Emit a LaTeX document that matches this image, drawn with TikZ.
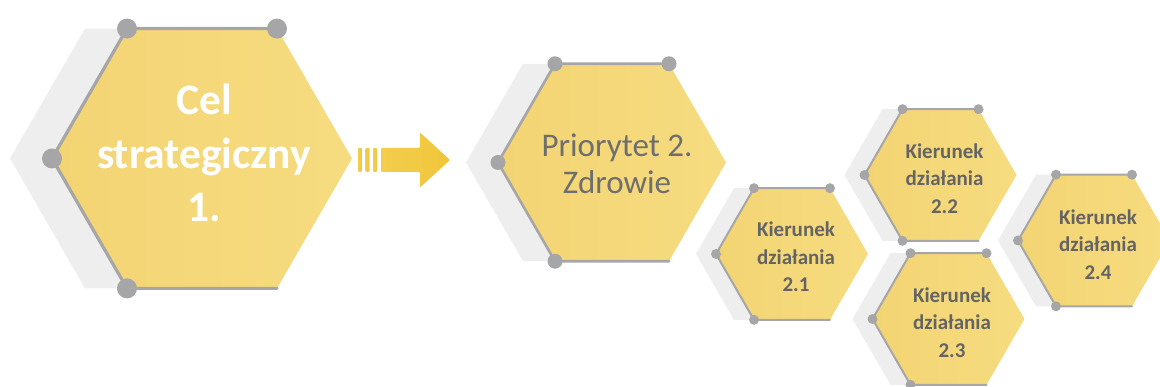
\documentclass[tikz,border=0pt]{standalone}
\usepackage{fontspec}
\setmainfont{Carlito}
\usetikzlibrary{calc}
\definecolor{hexL}{RGB}{243,212,115}
\definecolor{hexR}{RGB}{246,220,128}
\definecolor{hexshade}{RGB}{238,238,239}
\definecolor{hexgray}{RGB}{166,166,168}
\definecolor{txtgray}{RGB}{110,110,110}
\definecolor{kirgray}{RGB}{100,100,100}
\definecolor{arrL}{RGB}{243,206,76}
\definecolor{arrR}{RGB}{240,197,58}
\tikzset{
 hexshadow/.style={fill=hexshade},
 hexfill/.style={left color=hexL, right color=hexR},
 hexline/.style={draw=hexgray, line join=round, line cap=round},
 hexdot/.style={fill=hexgray},
 celtext/.style={text=white, font=\fontsize{43.5}{53.5}\selectfont\bfseries, align=center, inner sep=0pt},
 priotext/.style={text=txtgray, font=\fontsize{33}{37}\selectfont, align=center, inner sep=0pt},
 kiertext/.style={text=kirgray, font=\fontsize{21}{27.5}\selectfont\bfseries, align=center, inner sep=0pt},
 arrowpart/.style={left color=arrL, right color=arrR, rounded corners=1pt},
}
% #1 centre name, #2 side, #3 shadow offset, #4 line width, #5 dot radius
\newcommand\hexcell[5]{%
\begin{scope}[shift={(#1)}]
 \fill[hexshadow] ({-#3+#2},0) -- ({-#3+0.5*#2},{0.866*#2}) -- ({-#3-0.5*#2},{0.866*#2}) -- ({-#3-#2},0) -- ({-#3-0.5*#2},{-0.866*#2}) -- ({-#3+0.5*#2},{-0.866*#2}) -- cycle;
 \shade[hexfill] (#2,0) -- ({0.5*#2},{0.866*#2}) -- ({-0.5*#2},{0.866*#2}) -- ({-#2},0) -- ({-0.5*#2},{-0.866*#2}) -- ({0.5*#2},{-0.866*#2}) -- cycle;
 \draw[hexline, line width=#4] ({0.5*#2},{0.866*#2}) -- ({-0.5*#2},{0.866*#2}) -- ({-#2},0) -- ({-0.5*#2},{-0.866*#2}) -- ({0.5*#2},{-0.866*#2});
 \fill[hexdot] ({0.5*#2},{0.866*#2}) circle (#5pt) ({-0.5*#2},{0.866*#2}) circle (#5pt) ({-#2},0) circle (#5pt) ({-0.5*#2},{-0.866*#2}) circle (#5pt);
\end{scope}}
\begin{document}
\begin{tikzpicture}[x=1pt,y=1pt]
\useasboundingbox (0,0) rectangle (1160,387);
% hexagon centres
\coordinate (hcel) at (202,228.5);
\coordinate (hprio) at (612,224.5);
\coordinate (h21) at (792,133);
\coordinate (h22) at (940.5,212);
\coordinate (h23) at (948.5,68);
\coordinate (h24) at (1094,146.5);
\hexcell{hcel}{150}{42}{3.2}{10}
\hexcell{hprio}{114}{32}{2.6}{7.5}
\hexcell{h21}{76}{20}{2}{5}
\hexcell{h22}{76}{20}{2}{5}
\hexcell{h23}{76}{20}{2}{5}
\hexcell{h24}{76}{20}{2}{5}
% texts
\node[celtext] (cel) at (204,234) {Cel\\strategiczny\\1.};
\node[priotext] (prio) at (617,223) {Priorytet 2.\\Zdrowie};
\node[kiertext] (k21) at (796,130) {Kierunek\\działania\\2.1};
\node[kiertext] (k22) at (944.5,208.5) {Kierunek\\działania\\2.2};
\node[kiertext] (k23) at (952,64.5) {Kierunek\\działania\\2.3};
\node[kiertext] (k24) at (1098,142.5) {Kierunek\\działania\\2.4};
% block arrow
\coordinate (arr) at (404,227);
\shade[arrowpart] ($(arr)+(-46,-12)$) rectangle ($(arr)+(-42,12)$);
\shade[arrowpart] ($(arr)+(-38.5,-12)$) rectangle ($(arr)+(-34.5,12)$);
\shade[arrowpart] ($(arr)+(-31,-12)$) rectangle ($(arr)+(-27,12)$);
\shade[arrowpart] ($(arr)+(-23,-12)$) -- ($(arr)+(16,-12)$) -- ($(arr)+(16,-27.5)$) -- ($(arr)+(46,0)$) -- ($(arr)+(16,27.5)$) -- ($(arr)+(16,12)$) -- ($(arr)+(-23,12)$) -- cycle;
\end{tikzpicture}
\end{document}
